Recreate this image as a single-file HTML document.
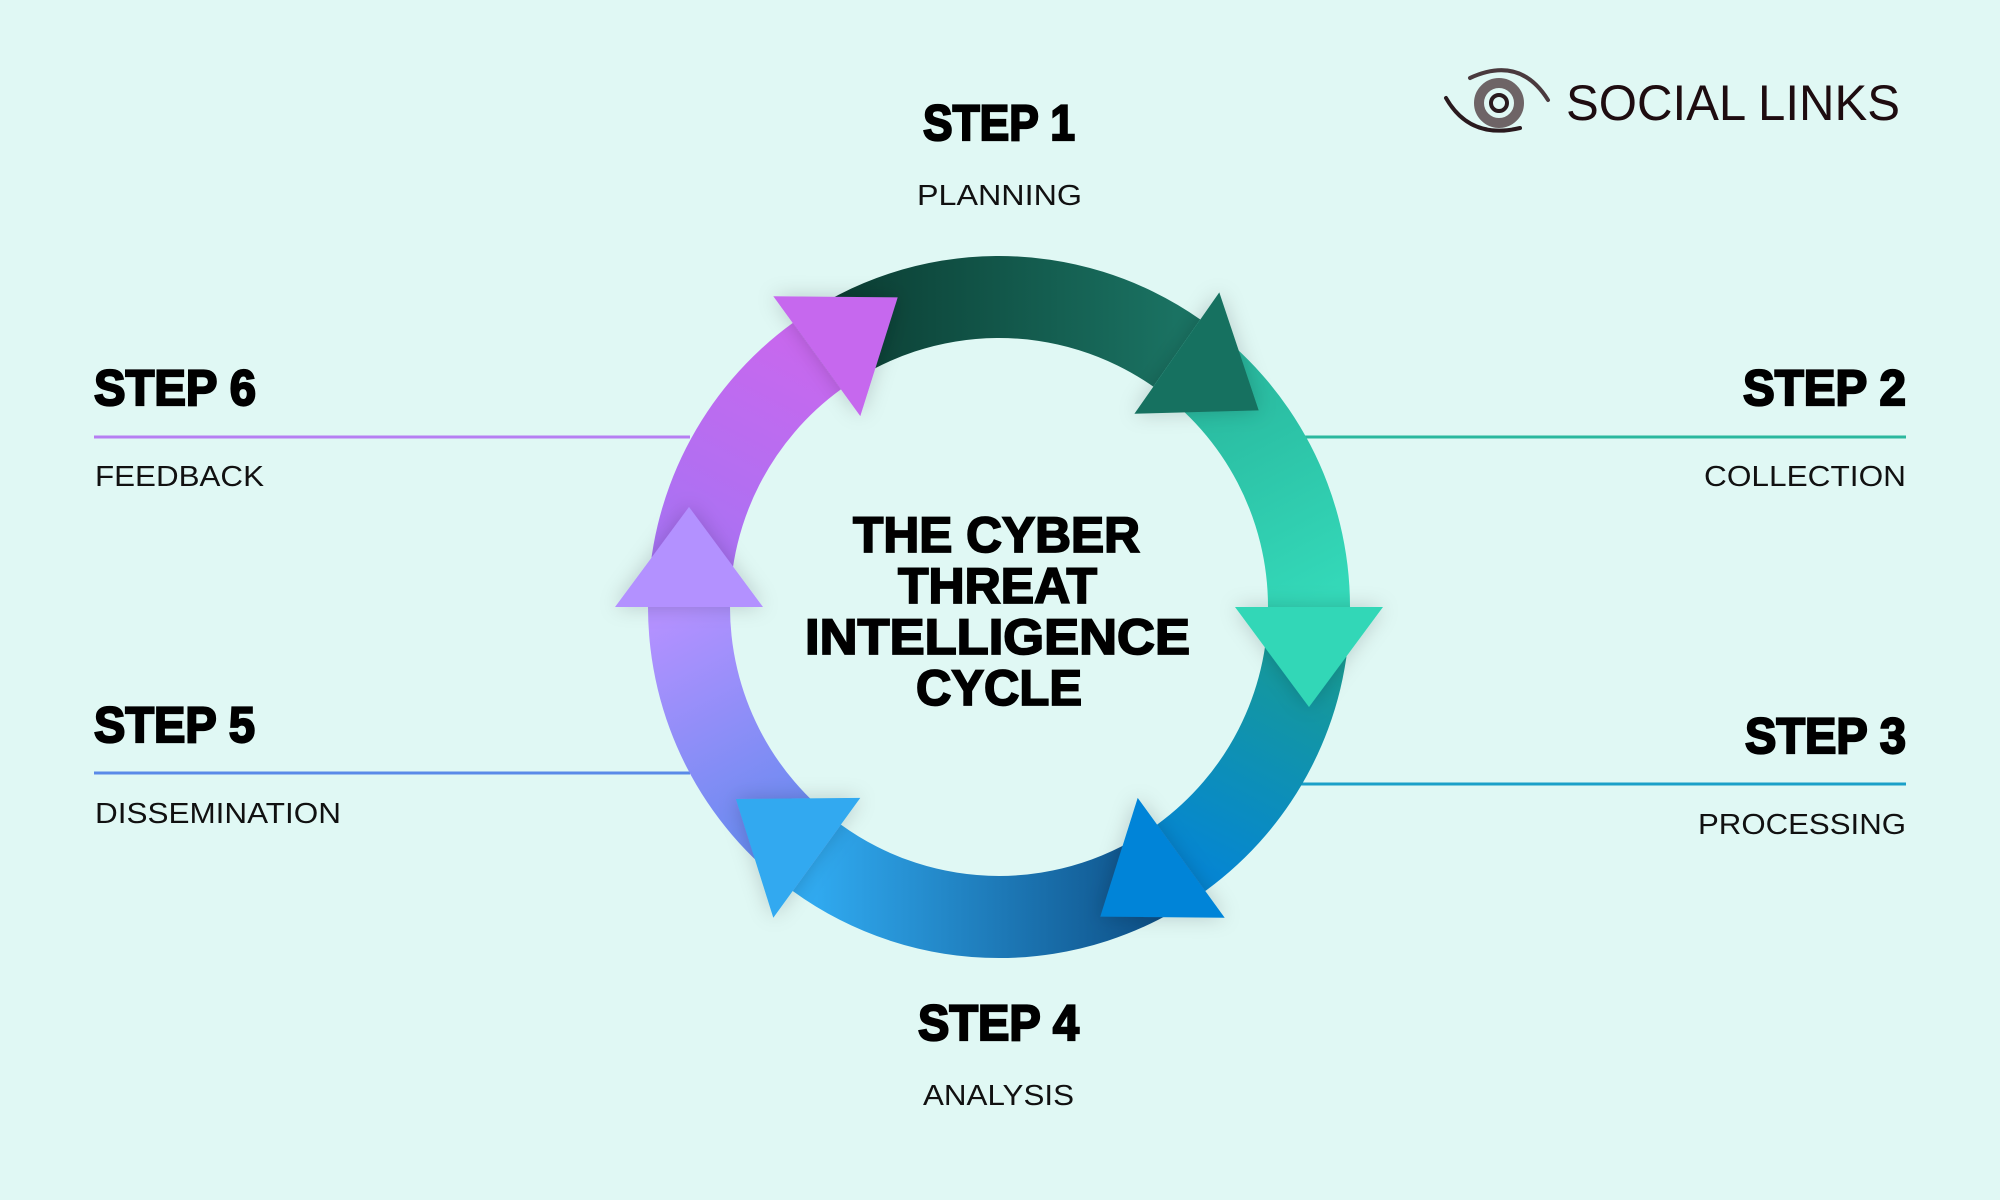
<!DOCTYPE html>
<html><head><meta charset="utf-8">
<style>
html,body{margin:0;padding:0;background:#e0f8f4;}
svg{display:block;}
.step{font-family:"Liberation Sans",sans-serif;font-weight:bold;font-size:50px;fill:#000;stroke:#000;stroke-width:2.2px;}
.lab{font-family:"Liberation Sans",sans-serif;font-size:29px;fill:#111;}
.title{font-family:"Liberation Sans",sans-serif;font-weight:bold;font-size:50px;fill:#000;stroke:#000;stroke-width:1.8px;}
</style></head>
<body>
<svg id="s" width="2000" height="1200" viewBox="0 0 2000 1200" xmlns="http://www.w3.org/2000/svg">
<rect width="2000" height="1200" fill="#e0f8f4"/>
<defs>
<filter id="sh" x="-30%" y="-30%" width="160%" height="160%"><feDropShadow dx="0" dy="0" stdDeviation="10" flood-color="#000" flood-opacity="0.18"/></filter>
</defs>
<line x1="94" y1="437" x2="690" y2="437" stroke="#b67ef2" stroke-width="3"/>
<line x1="1295" y1="437" x2="1906" y2="437" stroke="#2bb89e" stroke-width="3"/>
<line x1="1263" y1="784" x2="1906" y2="784" stroke="#1aa0c8" stroke-width="3"/>
<line x1="94" y1="773" x2="690" y2="773" stroke="#5a8ae8" stroke-width="3"/>
<g id="ring"></g>
<text class="step" x="923" y="140" textLength="152" lengthAdjust="spacingAndGlyphs">STEP 1</text>
<text class="lab" x="917" y="205" textLength="165" lengthAdjust="spacingAndGlyphs">PLANNING</text>
<text class="step" x="94" y="405" textLength="162" lengthAdjust="spacingAndGlyphs">STEP 6</text>
<text class="lab" x="95" y="486" textLength="169" lengthAdjust="spacingAndGlyphs">FEEDBACK</text>
<text class="step" x="1743" y="405" textLength="163" lengthAdjust="spacingAndGlyphs">STEP 2</text>
<text class="lab" x="1704" y="486" textLength="202" lengthAdjust="spacingAndGlyphs">COLLECTION</text>
<text class="step" x="1745" y="753" textLength="161" lengthAdjust="spacingAndGlyphs">STEP 3</text>
<text class="lab" x="1698" y="834" textLength="208" lengthAdjust="spacingAndGlyphs">PROCESSING</text>
<text class="step" x="94" y="742" textLength="161" lengthAdjust="spacingAndGlyphs">STEP 5</text>
<text class="lab" x="95" y="823" textLength="246" lengthAdjust="spacingAndGlyphs">DISSEMINATION</text>
<text class="step" x="918" y="1040" textLength="161" lengthAdjust="spacingAndGlyphs">STEP 4</text>
<text class="lab" x="923" y="1105" textLength="151" lengthAdjust="spacingAndGlyphs">ANALYSIS</text>
<text class="title" x="853" y="552" textLength="287" lengthAdjust="spacingAndGlyphs">THE CYBER</text>
<text class="title" x="898" y="603" textLength="199" lengthAdjust="spacingAndGlyphs">THREAT</text>
<text class="title" x="805" y="654" textLength="385" lengthAdjust="spacingAndGlyphs">INTELLIGENCE</text>
<text class="title" x="916" y="705" textLength="166" lengthAdjust="spacingAndGlyphs">CYCLE</text>
<g fill="none" stroke-linecap="round">
<path d="M1446 98 Q1470 140 1520 128" stroke="#2a1a1e" stroke-width="4"/>
<path d="M1470 78 Q1520 55 1548 100" stroke="#4a3a3e" stroke-width="4"/>
<circle cx="1499" cy="103" r="20" stroke="#6e6466" stroke-width="10"/>
<circle cx="1499" cy="103" r="8" stroke="#2a1a1e" stroke-width="4"/>
</g>
<text x="1566" y="120" textLength="334" lengthAdjust="spacingAndGlyphs" style="font-family:'Liberation Sans',sans-serif;font-size:50px;fill:#1e0c10;">SOCIAL LINKS</text>
</svg>
<script>
(function(){
var cx=999,cy=607,Ro=351,Ri=269,Rm=310,hw=74,hl=100;
var NS="http://www.w3.org/2000/svg";
function P(r,t){var a=t*Math.PI/180;return [cx+r*Math.sin(a),cy-r*Math.cos(a)];}
function f(p){return p[0].toFixed(1)+" "+p[1].toFixed(1);}
var segs=[
 {a:324,b:35,c1:"#0a3a30",c2:"#1a7262",h:"#177160"},
 {a:35,b:90,c1:"#27b39a",c2:"#34d9b9",h:"#33d7b7"},
 {a:90,b:144,c1:"#1a9e8c",c2:"#0586d2",h:"#0384d8"},
 {a:144,b:216,c1:"#0b4a80",c2:"#30a9ef",h:"#30a9f0"},
 {a:216,b:270,c1:"#5e8aee",c2:"#b391ff",h:"#b391ff"},
 {a:270,b:324,c1:"#a274f4",c2:"#c768ee",h:"#c668ee"}
];
var g=document.getElementById("ring");
var defs=document.querySelector("defs");
segs.forEach(function(s,i){
 var b=s.b<s.a?s.b+360:s.b;
 var p1=P(Rm,s.a),p2=P(Rm,b);
 var lg=document.createElementNS(NS,"linearGradient");
 lg.setAttribute("id","g"+i);lg.setAttribute("gradientUnits","userSpaceOnUse");
 lg.setAttribute("x1",p1[0]);lg.setAttribute("y1",p1[1]);lg.setAttribute("x2",p2[0]);lg.setAttribute("y2",p2[1]);
 lg.innerHTML='<stop offset="0" stop-color="'+s.c1+'"/><stop offset="1" stop-color="'+s.c2+'"/>';
 defs.appendChild(lg);
 var a0=s.a;
 var d="M"+f(P(Ro,a0))+" A"+Ro+" "+Ro+" 0 0 1 "+f(P(Ro,b))+" L"+f(P(Ri,b))+" A"+Ri+" "+Ri+" 0 0 0 "+f(P(Ri,a0))+"Z";
 var pa=document.createElementNS(NS,"path");pa.setAttribute("d",d);pa.setAttribute("fill","url(#g"+i+")");
 g.appendChild(pa);
});
segs.forEach(function(s,i){
 var t=s.b;var a=t*Math.PI/180;
 var m=P(Rm,t),b1=P(Rm-hw,t),b2=P(Rm+hw,t);
 var tip=[m[0]+hl*Math.cos(a),m[1]+hl*Math.sin(a)];
 var pa=document.createElementNS(NS,"path");
 pa.setAttribute("d","M"+f(b1)+" L"+f(b2)+" L"+f(tip)+"Z");
 pa.setAttribute("fill",s.h);pa.setAttribute("filter","url(#sh)");
 g.appendChild(pa);
});
})();
</script>
</body></html>
